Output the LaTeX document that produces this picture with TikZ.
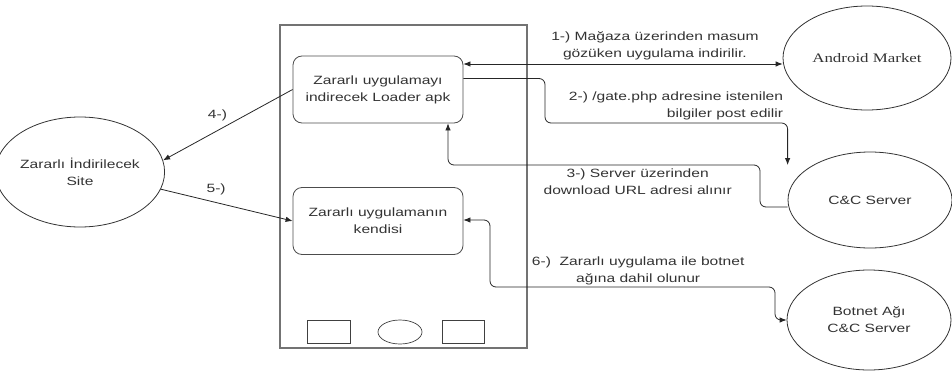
\documentclass[tikz,border=0pt]{standalone}
\usepackage{fontspec}
\setmainfont[FakeStretch=1.3]{Liberation Sans}
\newfontfamily\marketfont[FakeStretch=1.3]{Liberation Serif}
\usetikzlibrary{arrows.meta,shapes.geometric,positioning,calc}

\tikzset{
	phone/.style={draw=black!55, line width=1.3pt},
	phonekey/.style={draw=black!75, line width=0.7pt},
	appbox/.style={draw=black!70, line width=0.8pt, rounded corners=9pt,
		minimum width=170pt, minimum height=67pt, align=center,
		text=black!80, font=\fontsize{12}{17}\selectfont},
	srv/.style={ellipse, draw=black!80, line width=0.8pt, inner sep=0pt,
		align=center, text=black!80, font=\fontsize{12}{17}\selectfont},
	conn/.style={draw=black!85, line width=0.8pt, rounded corners=6pt,
		-{Latex[length=7pt,width=5.5pt]}},
	both/.style={{Latex[length=7pt,width=5.5pt]}-{Latex[length=7pt,width=5.5pt]}},
	lbl/.style={align=center, inner sep=1pt, text=black!80,
		font=\fontsize{12}{17}\selectfont},
}

\begin{document}
\begin{tikzpicture}[x=1pt, y=-1pt]
	\useasboundingbox (0,0) rectangle (952,372);

	% telefon
	\draw[phone] (280,25) rectangle (527,348);
	\draw[phonekey] (307,320) rectangle (350,343);
	\draw[phonekey] (400,332) ellipse (22pt and 12pt);
	\draw[phonekey] (442,320) rectangle (484,343);

	\node[appbox] (loader) at (378,89.5) {Zararlı uygulamayı\\indirecek Loader apk};
	\node[appbox] (payload) at (378,221) {Zararlı uygulamanın\\kendisi};

	\node[srv, minimum width=168pt, minimum height=104pt] (market) at (867,58)
		{\marketfont\fontsize{13}{17}\selectfont Android Market};
	\node[srv, minimum width=164pt, minimum height=96pt] (cnc) at (870,200) {C\&C Server};
	\node[srv, minimum width=164pt, minimum height=100pt] (botnet) at (869,320)
		{Botnet Ağı\\C\&C Server};
	\node[srv, minimum width=140pt, minimum height=110pt] (site) at (80,172)
		{Zararlı İndirilecek\\Site};

	\coordinate (m1) at (545,123);
	\coordinate (m3) at (760,165);
	\coordinate (m6) at (490,287);
	\coordinate (t6) at (775,320);

	% 1
	\draw[conn, both] ([yshift=25.5pt]loader.east) -- ([yshift=25.5pt]loader.east -| market.west)
		node[lbl, pos=0.6, above=3pt] {1-) Mağaza üzerinden masum\\gözüken uygulama indirilir.};
	% 2
	\draw[conn] ([yshift=11pt]loader.east) -| (m1) -| ([yshift=35pt]cnc.west)
		node[lbl, align=right, pos=0.27, above=2pt] {2-) /gate.php adresine istenilen\\bilgiler post edilir};
	% 3
	\draw[conn] ([yshift=-7pt]cnc.west) -| (m3) -| ([xshift=70pt]loader.south)
		node[lbl, pos=0.196, below=2pt] {3-) Server üzerinden\\download URL adresi alınır};
	% 4, 5
	\draw[conn] (loader.west) -- (site.8)
		node[lbl, pos=0.58, above=8pt] {4-)};
	\draw[conn] (site.-12) -- (payload.west)
		node[lbl, pos=0.42, above=6pt] {5-)};
	% 6
	\draw[conn, both] ([yshift=1pt]payload.east) -| (m6) -| (t6) -- (botnet.west);
	\path (m6) -- (m6 -| t6)
		node[lbl, pos=0.52, above=1pt] {6-)\ \ Zararlı uygulama ile botnet\\ağına dahil olunur};
\end{tikzpicture}
\end{document}
